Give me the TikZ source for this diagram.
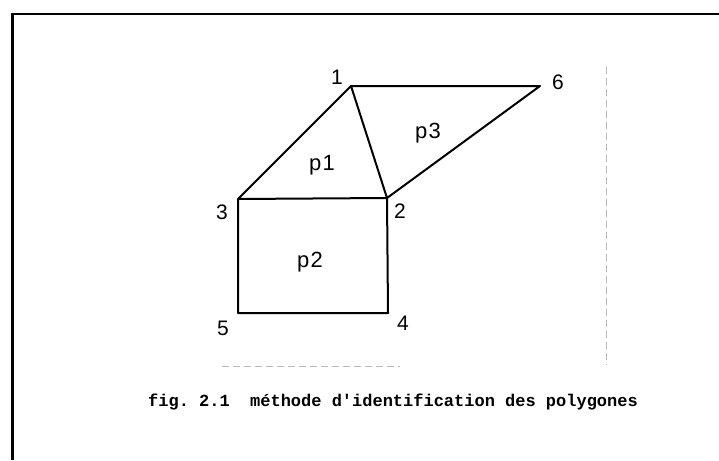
\documentclass[tikz,border=0pt]{standalone}
\usepackage{fontspec}
\setmainfont{Liberation Sans}
\newfontfamily\capfont[Ligatures=TeXOff]{Liberation Mono}
\frenchspacing
\begin{document}
\begin{tikzpicture}[x=1pt,y=-1pt,
  edge/.style={line width=2pt, line join=round, line cap=round},
  frame/.style={line width=2.8pt},
  faint/.style={gray!55, line width=1pt, dash pattern=on 7pt off 4pt},
  lbl/.style={font=\fontsize{21}{21}\selectfont, inner sep=0pt},
  plbl/.style={font=\fontsize{22}{22}\selectfont, inner sep=0pt, anchor=base},
  caption/.style={font=\capfont\bfseries\frenchspacing\fontsize{17}{17}\selectfont, inner sep=0pt, anchor=base}]
\useasboundingbox (0,0) rectangle (719,460);
\fill[white] (0,0) rectangle (719,460);
% frame
\coordinate (fbl) at (12.5,460);
\coordinate (ftl) at (12.5,14);
\coordinate (ftr) at (719,14);
\draw[frame] (fbl) -- (ftl) -- (ftr);
% faint scan lines
\coordinate (fa1) at (606,67);
\coordinate (fa2) at (606,365);
\coordinate (fb1) at (222,366);
\coordinate (fb2) at (400,366);
\draw[faint] (fa1) -- (fa2);
\draw[faint] (fb1) -- (fb2);
% vertices
\coordinate (v1) at (351,86);
\coordinate (v2) at (387,198);
\coordinate (v3) at (238,199);
\coordinate (v4) at (388,313);
\coordinate (v5) at (238,313);
\coordinate (v6) at (540,86);
\draw[edge] (v1) -- (v6) -- (v2) -- (v1) -- (v3) -- (v2) -- (v4) -- (v5) -- (v3);
% vertex labels
\node[lbl] (l1) at (337,77) {1};
\node[lbl] (l6) at (558,82) {6};
\node[lbl] (l3) at (222,212) {3};
\node[lbl] (l2) at (400,211) {2};
\node[lbl] (l5) at (223,328) {5};
\node[lbl] (l4) at (403,323) {4};
% polygon labels
\node[plbl] (p1) at (322,170) {p\kern1.5pt 1};
\node[plbl] (p3) at (428,138) {p\kern1.5pt 3};
\node[plbl] (p2) at (310,267) {p\kern1.5pt 2};
% caption
\node[caption] (cap) at (393,406) {fig. 2.1\ \ méthode d'identification des polygones};
\end{tikzpicture}
\end{document}
